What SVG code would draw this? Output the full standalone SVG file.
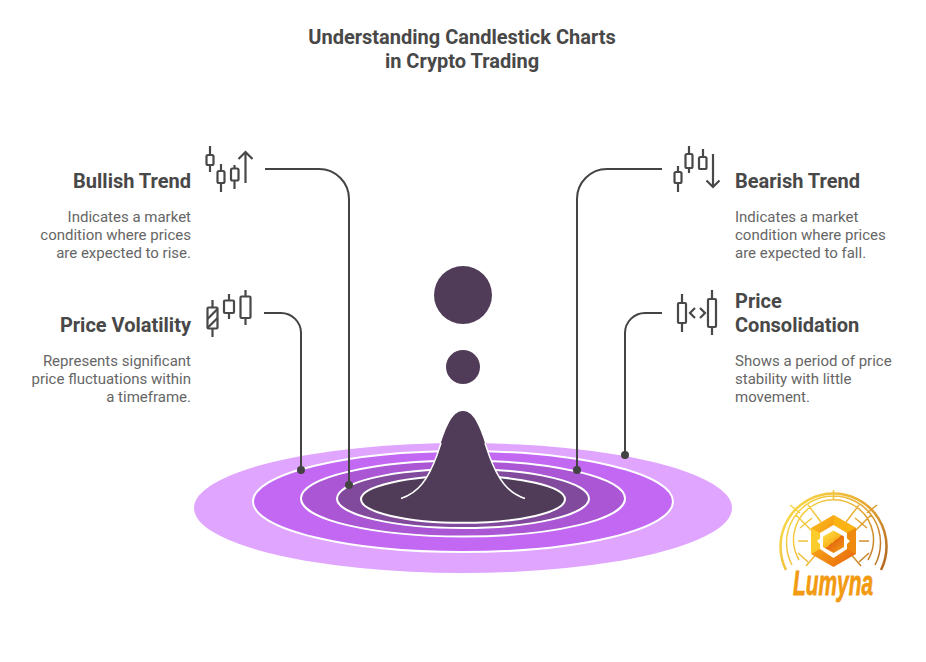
<svg xmlns="http://www.w3.org/2000/svg" width="926" height="662" viewBox="0 0 926 662">
<style>
text{font-family:Roboto,"Liberation Sans",sans-serif}
.title{font-size:20px;font-weight:700;fill:#484848;text-anchor:middle}
.head{font-size:20px;font-weight:700;fill:#484848}
.desc{font-size:15px;fill:#666666}
.end{text-anchor:end}
.conn{fill:none;stroke:#434343;stroke-width:2}
.dot{fill:#434343}
.ic{fill:none;stroke:#484848;stroke-width:2.200}
.ring{stroke:#fff;stroke-width:2}
.lg{fill:none;stroke:url(#lg);stroke-width:1.500}
</style>
<defs>
<linearGradient id="lg" gradientUnits="userSpaceOnUse" x1="780" y1="500" x2="890" y2="570"><stop offset="0" stop-color="#fbe04a"/><stop offset="0.55" stop-color="#e9ad35"/><stop offset="1" stop-color="#ad5f1d"/></linearGradient>
<linearGradient id="hexg" x1="0" y1="0" x2="1" y2="1"><stop offset="0" stop-color="#fdc01c"/><stop offset="1" stop-color="#e8640c"/></linearGradient>
<linearGradient id="inner" x1="0.2" y1="0.1" x2="0.8" y2="0.9"><stop offset="0" stop-color="#fcd940"/><stop offset="0.5" stop-color="#f9b21c"/><stop offset="0.5" stop-color="#e46c10"/><stop offset="1" stop-color="#f09012"/></linearGradient>
</defs>
<text class="title" x="462" y="44">Understanding Candlestick Charts</text>
<text class="title" x="462" y="68">in Crypto Trading</text>
<g id="funnel">
<ellipse cx="463" cy="508" rx="269" ry="65" fill="#e0a5fe"/>
<ellipse class="ring" cx="463" cy="501.500" rx="210" ry="50.500" fill="#c368f3"/>
<ellipse class="ring" cx="463" cy="498.500" rx="162" ry="38" fill="#ab56d5"/>
<ellipse class="ring" cx="463" cy="498.500" rx="126" ry="29.500" fill="#824a9d"/>
<ellipse class="ring" cx="463" cy="499.300" rx="102" ry="23.500" fill="#503c58"/>
<path d="M401 498.500C418 493 428 480 437 455C445 430 451 411 463 411C475 411 481 430 489 455C498 480 508 493 525 498.500C505 512 421 512 401 498.500Z" fill="#503c58"/>
<path d="M401 498.500C418 493 428 480 437 455L441 443M525 498.500C508 493 498 480 489 455L485 443" fill="none" stroke="#fff" stroke-width="1.500"/>
<circle cx="463" cy="295" r="29" fill="#503c58"/>
<circle cx="463" cy="367" r="17" fill="#503c58"/>
</g>
<g id="connectors">
<path class="conn" d="M265 169H319A30 30 0 0 1 349 199V485"/>
<circle class="dot" cx="349" cy="485" r="4"/>
<path class="conn" d="M264 313H281A20 20 0 0 1 301 333V470"/>
<circle class="dot" cx="301" cy="470" r="4"/>
<path class="conn" d="M662 169H607A30 30 0 0 0 577 199V470"/>
<circle class="dot" cx="577" cy="470" r="4"/>
<path class="conn" d="M662 313H645A20 20 0 0 0 625 333V455"/>
<circle class="dot" cx="625" cy="455" r="4"/>
</g>
<g id="bullish">
<path class="ic" d="M210 146V155M210 165V172M221 164V171M221 183V192M234.500 165V168.500M234.500 180.500V189M245.500 183V152M238.500 159L245.500 152L252.500 159"/>
<rect class="ic" x="206.500" y="155" width="7" height="10" rx="1.500"/>
<rect class="ic" x="217.500" y="171" width="7" height="12" rx="1.500"/>
<rect class="ic" x="231" y="168.500" width="7.500" height="12" rx="1.500"/>
<text class="head end" x="191" y="188">Bullish Trend</text>
<text class="desc end" x="191" y="222">Indicates a market</text>
<text class="desc end" x="191" y="240">condition where prices</text>
<text class="desc end" x="191" y="258">are expected to rise.</text>
</g>
<g id="volatility">
<path class="ic" d="M212.500 300V307M212.500 328V337M229 294V300.500M229 313V319M245.500 290V296.500M245.500 318V325M207.500 319L217.500 309M207.500 328L217.500 318"/>
<rect class="ic" x="207.500" y="307.500" width="10" height="21" rx="1"/>
<rect class="ic" x="224" y="300.500" width="10" height="12.500" rx="1"/>
<rect class="ic" x="240.500" y="296.500" width="10" height="21.500" rx="1"/>
<text class="head end" x="191" y="332">Price Volatility</text>
<text class="desc end" x="191" y="366">Represents significant</text>
<text class="desc end" x="191" y="384">price fluctuations within</text>
<text class="desc end" x="191" y="402">a timeframe.</text>
</g>
<g id="bearish">
<path class="ic" d="M678 166V172M678 183V192M689 146V154M689 168V173M703 149V157M713 154V187M706.500 180.500L713 187L719.500 180.500"/>
<rect class="ic" x="674.500" y="172" width="7" height="11" rx="1.500"/>
<rect class="ic" x="685.500" y="154" width="7" height="14" rx="1.500"/>
<rect class="ic" x="699" y="157" width="7.500" height="12" rx="1.500"/>
<text class="head" x="735" y="188">Bearish Trend</text>
<text class="desc" x="735" y="222">Indicates a market</text>
<text class="desc" x="735" y="240">condition where prices</text>
<text class="desc" x="735" y="258">are expected to fall.</text>
</g>
<g id="consolidation">
<path class="ic" d="M682 294V303M682 323V332M712 290V299M712 327V335M695 308L690 313L695 318M700 308L705 313L700 318"/>
<rect class="ic" x="678" y="303" width="8" height="20" rx="1"/>
<rect class="ic" x="708" y="299" width="8" height="28" rx="1"/>
<text class="head" x="735" y="308">Price</text>
<text class="head" x="735" y="332">Consolidation</text>
<text class="desc" x="735" y="366">Shows a period of price</text>
<text class="desc" x="735" y="384">stability with little</text>
<text class="desc" x="735" y="402">movement.</text>
</g>
<g id="logo">
<path d="M786 570A53 53 0 1 1 881 570" fill="none" stroke="url(#lg)" stroke-width="2.500"/>
<path class="lg" d="M792 565A47 47 0 1 1 875 565M799 560A40 40 0 1 1 868 560M796 515L812 531M808 505L821 522M871 515L855 531M859 505L846 522M798 541H808M859 541H869M790 505L800 513M877 505L867 513M806 566L818 552M861 566L849 552M800 528L812 518M867 528L855 518M833.500 490V499M798 553L808 562M869 553L859 562"/>
<path d="M833.500 515L856 528V554L833.500 567L811 554V528Z" fill="url(#hexg)"/>
<path d="M833.500 515L856 528L847 533L833.500 525Z" fill="#fbb414"/>
<path d="M856 528V554L847 549V533Z" fill="#ee8a10"/>
<path d="M811 528V554L820 549V533Z" fill="#fccb2c"/>
<path d="M833.500 525L847 533V538.500L850 541L847 544V549L833.500 558L820 549V544L817 541L820 538.500V533Z" fill="#fff"/>
<path d="M833.500 530.500L844 536.500V547L833.500 553L823 547V536.500Z" fill="url(#inner)"/>
<text transform="translate(793 595) scale(0.58 1)" x="0" y="0" font-size="36" font-weight="700" font-style="italic" fill="#f29a10" stroke="#f29a10" stroke-width="0.800" style="font-family:'Liberation Sans',sans-serif">Lumyna</text>
</g>
</svg>
